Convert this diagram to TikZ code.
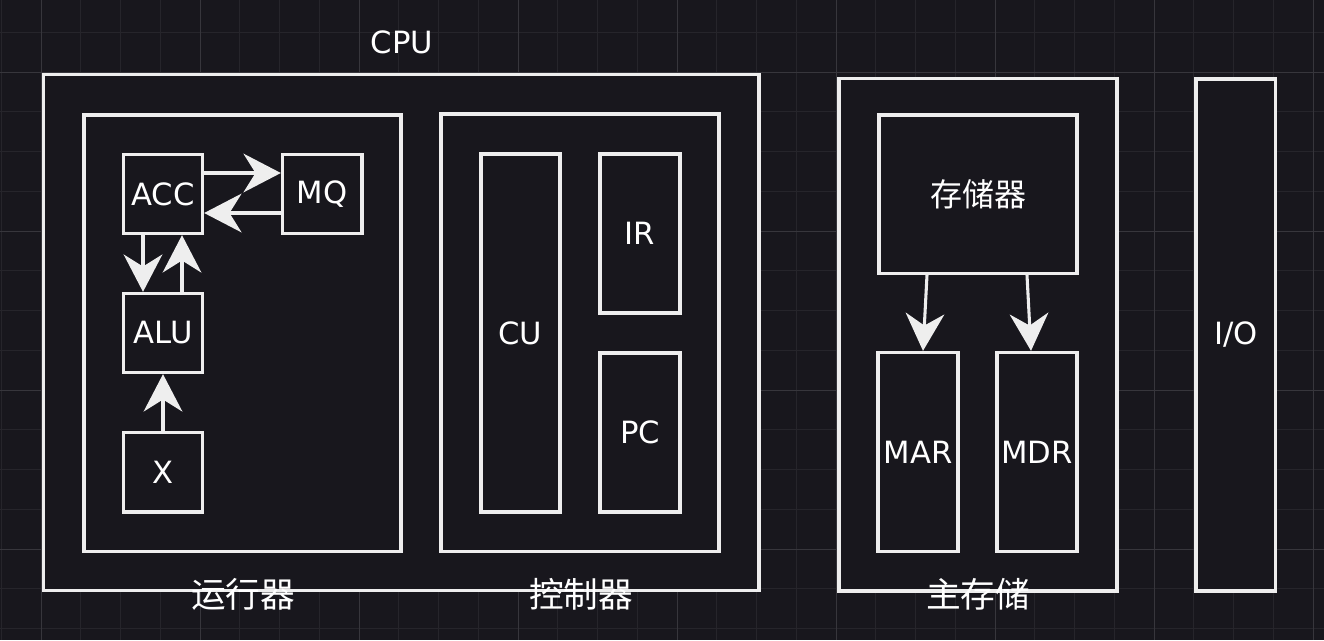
\documentclass[tikz,border=0pt]{standalone}
\usepackage{fontspec}
\setmainfont{DejaVu Sans}
\newfontfamily\cjk{Noto Sans CJK SC}
\usetikzlibrary{arrows.meta}
\definecolor{bgcol}{HTML}{18171D}
\definecolor{gridminor}{HTML}{26252B}
\definecolor{gridmajor}{HTML}{37363C}
\definecolor{linecol}{HTML}{EEEEEE}
\tikzset{
  blk/.style 2 args={draw=linecol, line width=2.5pt, fill=bgcol, text=white,
    font=\fontsize{23}{27}\selectfont, inner sep=0pt,
    minimum width=#1*0.75pt, minimum height=#2*0.75pt},
  lbl/.style={text=white, inner sep=0pt, font=\fontsize{23}{27}\selectfont},
  cjklbl/.style={text=white, inner sep=0pt, font=\cjk\fontsize{26}{30}\selectfont},
  flow/.style={draw=linecol, line width=2.3pt,
    -{Stealth[length=28pt,width=29pt,inset=9pt]}},
}

\begin{document}
\begin{tikzpicture}[x=0.75pt,y=-0.75pt]
    %% background and grid
    \fill[bgcol] (0,0) rectangle (1324,640);
    \useasboundingbox (0,0) rectangle (1324,640);
    \foreach \i in {0,...,33}
      \draw[gridminor, line width=0.75pt] ({1.25+\i*39.75},0) -- ({1.25+\i*39.75},640);
    \foreach \i in {1,...,16}
      \draw[gridminor, line width=0.75pt] (0,{-7.5+\i*39.75}) -- (1324,{-7.5+\i*39.75});
    \foreach \i in {0,...,8}
      \draw[gridmajor, line width=0.75pt] ({41+\i*159},0) -- ({41+\i*159},640);
    \foreach \i in {0,...,3}
      \draw[gridmajor, line width=0.75pt] (0,{72+\i*159}) -- (1324,{72+\i*159});
    %% CPU
    \node[blk={715.5}{516}] (cpu) at (401.25,332.5) {};
    \node[lbl] (cpulbl) at (402,42) {CPU};
    %% arithmetic unit
    \node[blk={317}{436.5}] (yxq) at (242.5,333.25) {};
    \node[blk={79}{79}] (acc) at (163,194) {ACC};
    \node[blk={79.5}{79}] (mq) at (322.25,194) {MQ};
    \node[blk={79}{79}] (alu) at (163,333) {ALU};
    \node[blk={79}{79.5}] (xreg) at (163,472.25) {X};
    \draw[flow] ([yshift=15.75pt]acc.east) -- ([yshift=15.75pt]mq.west);
    \draw[flow] ([yshift=-14.25pt]mq.west) -- ([yshift=-14.25pt]acc.east);
    \draw[flow] ([xshift=-15pt]acc.south) -- ([xshift=-15pt]alu.north);
    \draw[flow] ([xshift=14.25pt]alu.north) -- ([xshift=14.25pt]acc.south);
    \draw[flow] (xreg.north) -- (alu.south);
    \node[cjklbl] (yxlbl) at (243,594) {运行器};
    %% control unit
    \node[blk={278}{437.5}] (kzq) at (580,332.75) {};
    \node[blk={79}{358}] (cu) at (520.5,333) {CU};
    \node[blk={80}{159}] (ir) at (640,233.5) {IR};
    \node[blk={80}{159}] (pc) at (640,432.5) {PC};
    \node[cjklbl] (kzlbl) at (581,594) {控制器};
    %% main memory
    \node[blk={278}{512.5}] (zcc) at (978,334.75) {};
    \node[blk={198}{158.5}, font=\cjk\fontsize{24}{28}\selectfont] (ccq) at (978,194.25) {存储器};
    \node[blk={80}{199}] (mar) at (918,452) {MAR};
    \node[blk={80}{199}] (mdr) at (1037,452) {MDR};
    \draw[flow] ([xshift=-38.25pt]ccq.south) -- ([xshift=3.75pt]mar.north);
    \draw[flow] ([xshift=36.75pt]ccq.south) -- ([xshift=-4.5pt]mdr.north);
    \node[cjklbl] (zclbl) at (978,594) {主存储};
    %% I/O
    \node[blk={79.5}{512}] (io) at (1235.75,335) {I/O};
\end{tikzpicture}
\end{document}
